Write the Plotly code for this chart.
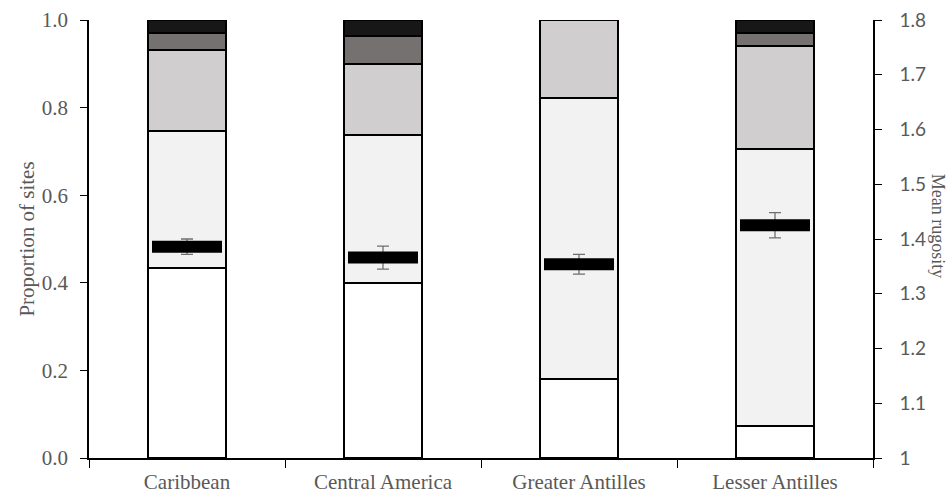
import plotly.graph_objects as go

regions = ["Caribbean", "Central America", "Greater Antilles", "Lesser Antilles"]

# proportion of sites in each rugosity class (stacked bottom to top)
class_1 = [0.434, 0.400, 0.180, 0.073]
class_2 = [0.313, 0.337, 0.642, 0.633]
class_3 = [0.185, 0.163, 0.178, 0.234]
class_4 = [0.038, 0.063, 0.000, 0.030]
class_5 = [0.030, 0.037, 0.000, 0.030]

class_colors = ["#ffffff", "#f2f2f2", "#d0cece", "#767171", "#171717"]

# mean rugosity and its standard error
mean_rugosity = [1.386, 1.366, 1.354, 1.425]
rugosity_se = [0.014, 0.021, 0.018, 0.023]

serif = "Liberation Serif"
grey_text = "#595959"

fig = go.Figure()
for vals, col in zip([class_1, class_2, class_3, class_4, class_5], class_colors):
    fig.add_trace(go.Bar(
        x=regions, y=vals,
        marker=dict(color=col, line=dict(color="#000000", width=1.6)),
        showlegend=False, hoverinfo="skip",
    ))

fig.add_trace(go.Scatter(
    x=regions, y=mean_rugosity, yaxis="y2", mode="markers",
    marker=dict(symbol="line-ew", size=50, color="#000000",
                line=dict(color="#000000", width=12)),
    error_y=dict(type="data", array=rugosity_se, color="#6f6f6f",
                 thickness=1.3, width=6),
    showlegend=False,
))

fig.update_layout(
    width=951, height=494,
    margin=dict(l=89, r=78, t=20, b=36),
    paper_bgcolor="white", plot_bgcolor="white",
    barmode="stack", bargap=0.605,
    xaxis=dict(
        automargin=False,
        showline=True, linecolor="#000000", linewidth=1.5,
        ticks="outside", ticklen=8, tickcolor="#000000", tickwidth=1.3,
        tickson="boundaries", ticklabelstandoff=4,
        tickfont=dict(family=serif, size=21, color=grey_text),
        showgrid=False,
    ),
    yaxis=dict(
        automargin=False,
        range=[0, 1], dtick=0.2, tickformat=".1f",
        showline=True, linecolor="#000000", linewidth=1.5,
        ticks="outside", ticklen=7, tickcolor="#000000", tickwidth=1.3,
        ticklabelstandoff=8,
        tickfont=dict(family=serif, size=21, color=grey_text),
        title=dict(text="Proportion of sites", standoff=1,
                   font=dict(family=serif, size=21, color=grey_text)),
        showgrid=False, zeroline=False,
    ),
    yaxis2=dict(
        automargin=False,
        range=[1, 1.8], dtick=0.1, overlaying="y", side="right",
        showline=True, linecolor="#000000", linewidth=1.5,
        ticks="outside", ticklen=7, tickcolor="#000000", tickwidth=1.3,
        ticklabelstandoff=14,
        tickfont=dict(family="Lato", size=19, color=grey_text),
        showgrid=False, zeroline=False,
    ),
)

fig.add_annotation(
    text="Mean rugosity", xref="paper", yref="paper",
    x=1.0, xshift=65, xanchor="center", y=0.53, yanchor="middle",
    textangle=90, showarrow=False,
    font=dict(family=serif, size=18, color=grey_text),
)

fig.write_html("out.html")
